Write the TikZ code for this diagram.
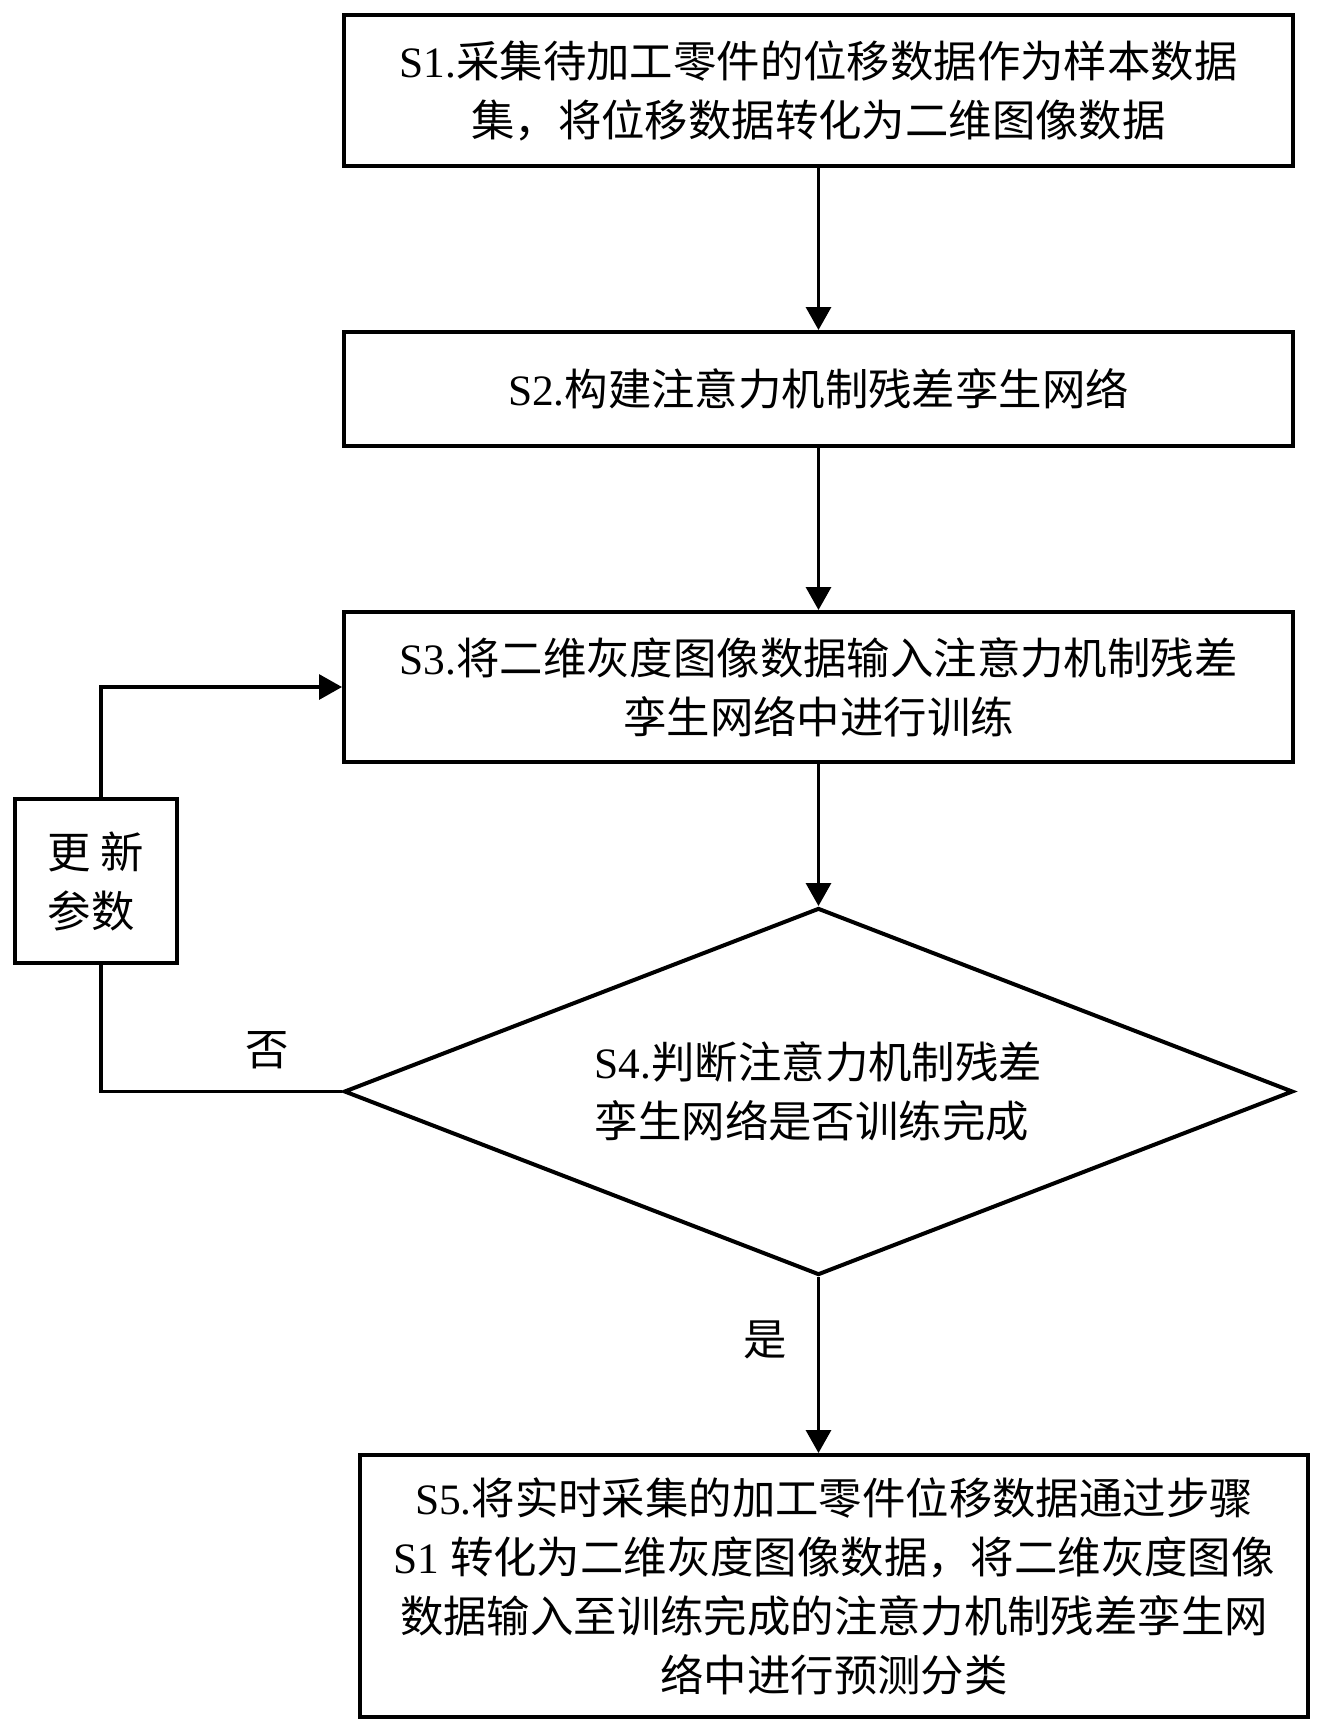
\documentclass[tikz,border=0pt]{standalone}
\usepackage{fontspec}
\setmainfont{Liberation Serif}
\newfontfamily\cjk{Noto Sans CJK SC}
\usetikzlibrary{shapes.geometric,arrows.meta}
\begin{document}
\begin{tikzpicture}[x=0.5pt,y=-0.5pt,
  txt/.style={font=\fontsize{21.7pt}{29.5pt}\selectfont},
  box/.style={txt,draw,line width=2pt,rectangle,align=center,inner sep=0pt},
  dia/.style={txt,draw,line width=2pt,diamond,aspect=2.586,align=left,inner sep=0pt,
    minimum width=474.5pt,minimum height=183.5pt},
  conn/.style={line width=1.6pt},
  arr/.style={conn,-{Triangle[length=11.5pt,width=12.5pt]}},
  lbl/.style={txt,inner sep=0pt}]
\useasboundingbox (0,0) rectangle (1323,1731);

\node[box,minimum width=474.5pt,minimum height=75.5pt] (s1) at (818.5,90.5)
  {S1.{\cjk 采集待加工零件的位移数据作为样本数据}\\{\cjk 集，将位移数据转化为二维图像数据}};
\node[box,minimum width=474.5pt,minimum height=57pt] (s2) at (818.5,389)
  {S2.{\cjk 构建注意力机制残差孪生网络}};
\node[box,minimum width=474.5pt,minimum height=75pt] (s3) at (818.5,687)
  {S3.{\cjk 将二维灰度图像数据输入注意力机制残差}\\{\cjk 孪生网络中进行训练}};
\node[dia] (d) at (818.5,1091.5)
  {S4.{\cjk 判断注意力机制残差}\\{\cjk 孪生网络是否训练完成}};
\node[box,minimum width=474pt,minimum height=131pt] (s5) at (834,1586)
  {S5.{\cjk 将实时采集的加工零件位移数据通过步骤}\\
   S1 {\cjk 转化为二维灰度图像数据，将二维灰度图像}\\
   {\cjk 数据输入至训练完成的注意力机制残差孪生网}\\
   {\cjk 络中进行预测分类}};
\node[box,align=left,minimum width=81pt,minimum height=82pt] (upd) at (96,881)
  {{\cjk 更 新}\\{\cjk 参数}};

\node[lbl] (no) at (267,1050) {\cjk 否};
\node[lbl] (yes) at (765,1340) {\cjk 是};

\coordinate (lx) at (101,0);

\draw[arr] (s1) -- (s2);
\draw[arr] (s2) -- (s3);
\draw[arr] (s3) -- (d);
\draw[arr] (d.south) -- (d.south |- s5.north);
\draw[conn] (d.west) -- (d.west -| lx) -- (lx |- upd.south);
\draw[arr] (lx |- upd.north) -- (lx |- s3.west) -- (s3.west);
\end{tikzpicture}
\end{document}
